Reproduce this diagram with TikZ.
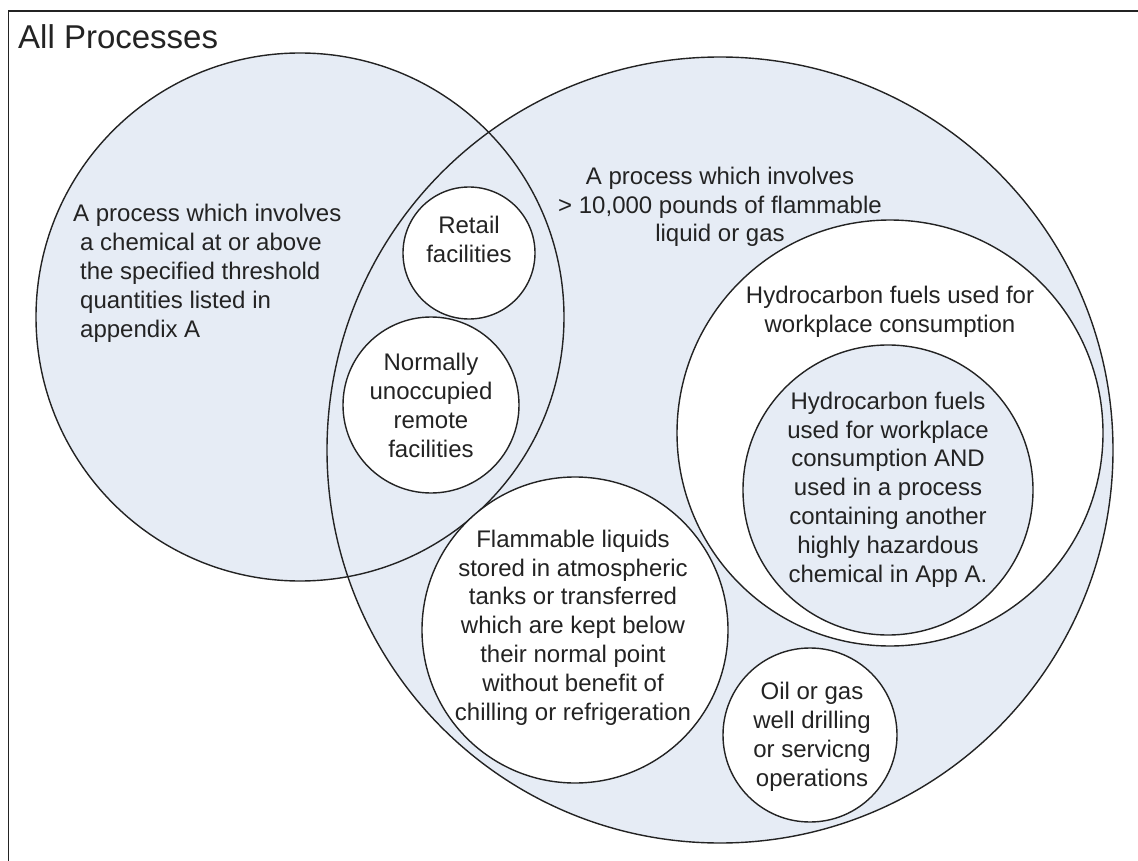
\documentclass[tikz,border=0pt]{standalone}
\usepackage{fontspec}
\setmainfont{Liberation Sans}
\definecolor{vennblue}{RGB}{230,236,245}
\definecolor{ink}{RGB}{35,35,35}
\begin{document}
\begin{tikzpicture}[x=1pt,y=-1pt,
  setfill/.style={circle, inner sep=0pt, outer sep=0pt, fill=vennblue},
  setline/.style={draw=ink, line width=1.4pt},
  blueset/.style={circle, inner sep=0pt, outer sep=0pt, draw=ink, line width=1.4pt, fill=vennblue},
  whiteset/.style={circle, inner sep=0pt, outer sep=0pt, draw=ink, line width=1.4pt, fill=white},
  lbl/.style={text=ink, font=\fontsize{24}{28.8}\selectfont, align=center, anchor=base, inner sep=0pt}]
\useasboundingbox (0,0) rectangle (1138,861);
% frame (only left and top edges visible)
\coordinate (fbl) at (8.5,870);
\coordinate (ftl) at (8.5,11);
\coordinate (ftr) at (1150,11);
\draw[ink, line width=1.6pt] (fbl) -- (ftl) -- (ftr);
\node[lbl, anchor=base west, font=\fontsize{33}{38}\selectfont] (title) at (18,49) {All Processes};
% the two large sets
\node[setfill, minimum size=528pt] (L) at (300,317) {};
\node[setfill, minimum size=786pt] (R) at (720,450) {};
\draw[setline] (L.center) circle[radius=264];
\draw[setline] (R.center) circle[radius=393];
% inner sets
\node[whiteset, minimum size=426pt] (H) at (890,433) {};
\node[blueset, minimum size=290pt] (HA) at (888,490) {};
\node[whiteset, minimum size=132pt] (RT) at (469,253) {};
\node[whiteset, minimum size=176pt] (NU) at (431,405) {};
\node[whiteset, minimum size=306pt] (FL) at (575,630) {};
\node[whiteset, minimum size=174pt] (OG) at (810,735) {};
% labels (anchor = baseline of the last line)
\node[lbl, align=left, anchor=base west] (tL) at (80,337) {\hspace*{-7pt}A process which involves\\a chemical at or above\\the specified threshold\\quantities listed in\\appendix A};
\node[lbl] (tR) at (720,242) {A process which involves\\> 10,000 pounds of flammable\\liquid or gas};
\node[lbl] (tRT) at (469,262) {Retail\\facilities};
\node[lbl] (tNU) at (431,457) {Normally\\unoccupied\\remote\\facilities};
\node[lbl] (tH) at (890,332) {Hydrocarbon fuels used for\\workplace consumption};
\node[lbl] (tHA) at (888,582) {Hydrocarbon fuels\\used for workplace\\consumption AND\\used in a process\\containing another\\highly hazardous\\chemical in App A.};
\node[lbl] (tFL) at (573,720) {Flammable liquids\\stored in atmospheric\\tanks or transferred\\which are kept below\\their normal point\\without benefit of\\chilling or refrigeration};
\node[lbl] (tOG) at (812,786) {Oil or gas\\well drilling\\or servicng\\operations};
\end{tikzpicture}
\end{document}
